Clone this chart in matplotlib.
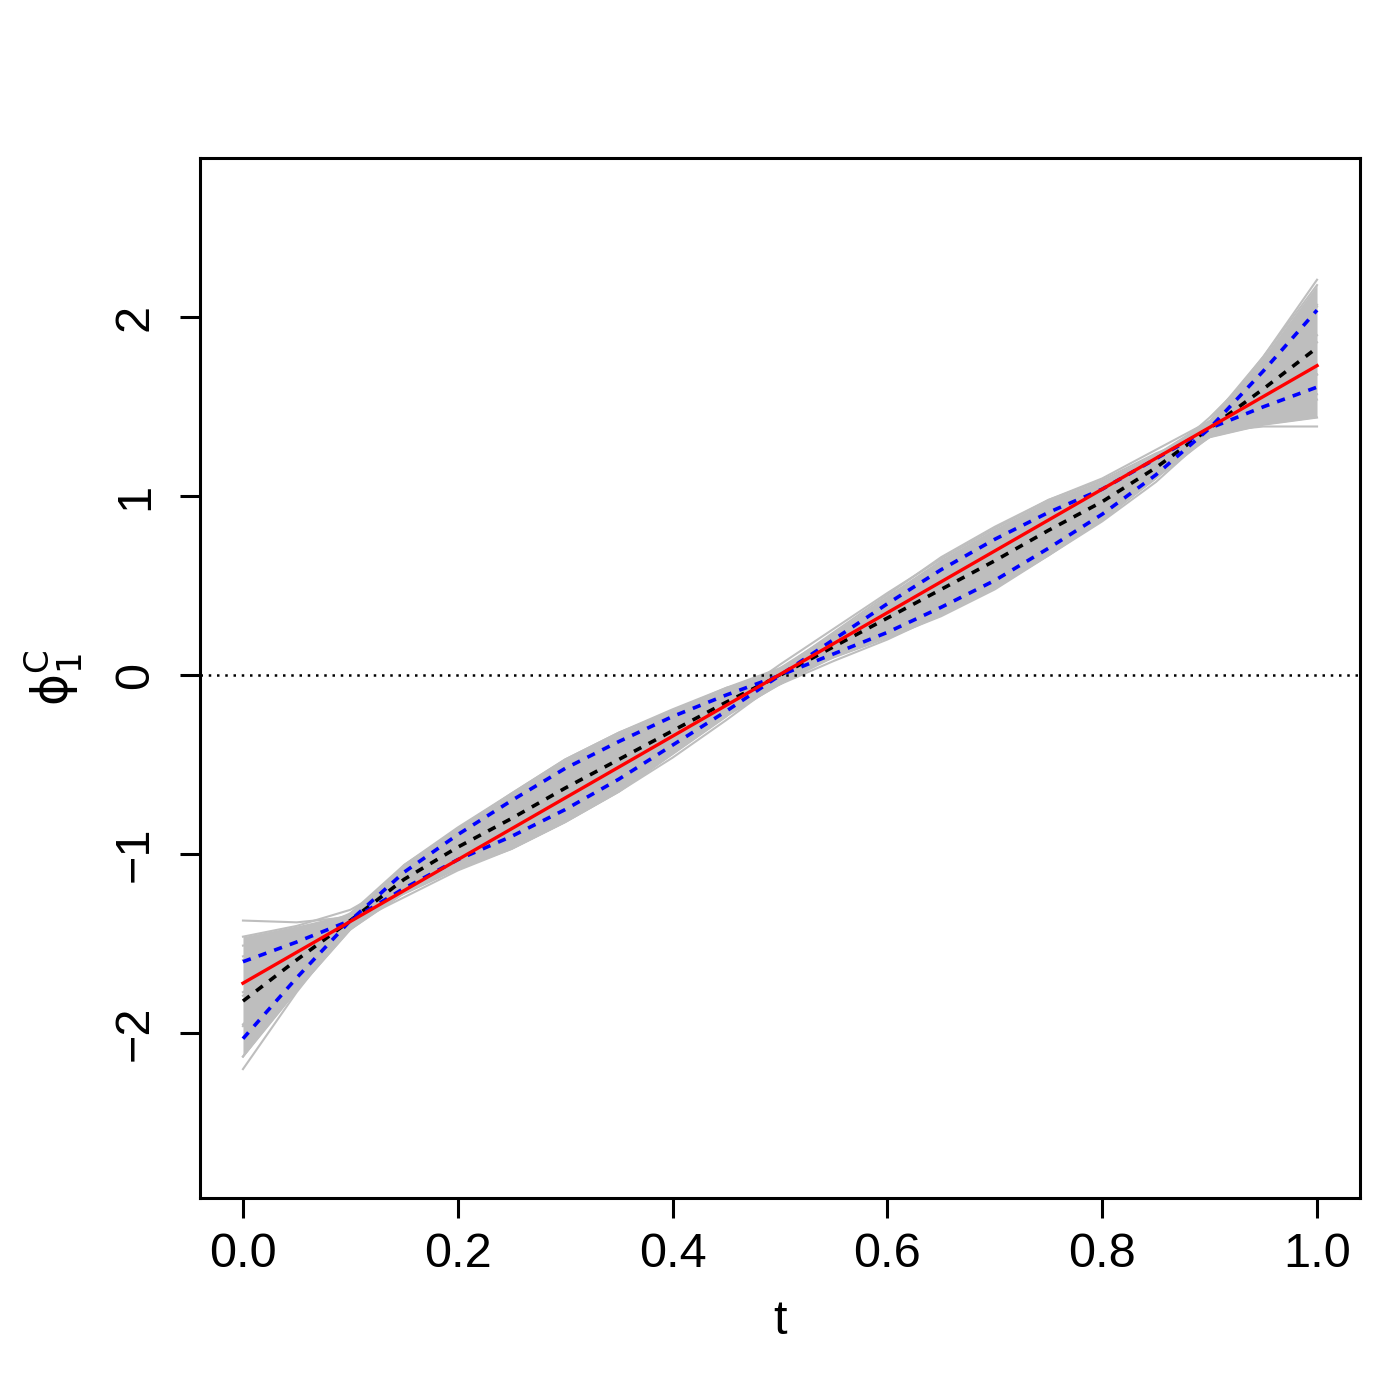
import numpy as np
import matplotlib
matplotlib.use("Agg")
import matplotlib.pyplot as plt

plt.rcParams['font.family'] = ['Liberation Sans', 'DejaVu Sans']
plt.rcParams['mathtext.fontset'] = 'dejavusans'

t = [0.00, 0.05, 0.10, 0.15, 0.20, 0.25, 0.30, 0.35, 0.40, 0.45, 0.50,
     0.55, 0.60, 0.65, 0.70, 0.75, 0.80, 0.85, 0.90, 0.95, 1.00]

# gray sample curves
gray_curves = [
    [-1.37, -1.38, -1.35, -1.22, -1.08, -0.97, -0.82, -0.65, -0.44, -0.23, 0.03,
     0.24, 0.45, 0.66, 0.83, 0.98, 1.09, 1.24, 1.36, 1.39, 1.39],
    [-1.51, -1.47, -1.39, -1.24, -1.09, -0.97, -0.82, -0.65, -0.46, -0.25, -0.03,
     0.18, 0.39, 0.58, 0.75, 0.90, 1.02, 1.18, 1.33, 1.40, 1.44],
    [-1.46, -1.40, -1.31, -1.14, -0.99, -0.87, -0.71, -0.54, -0.35, -0.15, 0.06,
     0.26, 0.46, 0.65, 0.82, 0.98, 1.10, 1.26, 1.42, 1.51, 1.57],
    [-1.57, -1.49, -1.38, -1.21, -1.05, -0.92, -0.77, -0.60, -0.41, -0.22, -0.02,
     0.19, 0.38, 0.57, 0.74, 0.89, 1.02, 1.19, 1.36, 1.46, 1.54],
    [-1.59, -1.46, -1.33, -1.13, -0.97, -0.83, -0.67, -0.51, -0.33, -0.14, 0.04,
     0.23, 0.42, 0.60, 0.76, 0.92, 1.06, 1.23, 1.42, 1.55, 1.68],
    [-1.77, -1.60, -1.42, -1.21, -1.04, -0.89, -0.72, -0.56, -0.39, -0.22, -0.05,
     0.13, 0.30, 0.47, 0.63, 0.80, 0.94, 1.13, 1.33, 1.51, 1.68],
    [-1.79, -1.56, -1.34, -1.11, -0.93, -0.77, -0.60, -0.44, -0.28, -0.12, 0.03,
     0.19, 0.35, 0.51, 0.67, 0.84, 1.00, 1.19, 1.41, 1.63, 1.86],
    [-1.95, -1.67, -1.41, -1.15, -0.97, -0.79, -0.62, -0.46, -0.31, -0.16, -0.03,
     0.11, 0.26, 0.41, 0.57, 0.74, 0.92, 1.11, 1.35, 1.62, 1.90],
    [-1.96, -1.63, -1.33, -1.06, -0.86, -0.68, -0.50, -0.34, -0.20, -0.07, 0.04,
     0.18, 0.31, 0.45, 0.61, 0.79, 0.97, 1.18, 1.44, 1.74, 2.07],
    [-2.13, -1.76, -1.42, -1.14, -0.93, -0.74, -0.56, -0.41, -0.27, -0.15, -0.05,
     0.08, 0.20, 0.34, 0.49, 0.67, 0.86, 1.08, 1.35, 1.69, 2.06],
    [-2.13, -1.73, -1.37, -1.06, -0.85, -0.66, -0.47, -0.32, -0.19, -0.07, 0.01,
     0.12, 0.24, 0.37, 0.52, 0.71, 0.90, 1.12, 1.42, 1.78, 2.18],
    [-2.20, -1.77, -1.39, -1.08, -0.86, -0.66, -0.47, -0.32, -0.20, -0.09, -0.02,
     0.10, 0.21, 0.33, 0.48, 0.67, 0.87, 1.10, 1.40, 1.78, 2.21],
]

# pointwise mean (black dashed) and band (blue dashed)
mean_curve = [-1.82, -1.59, -1.37, -1.14, -0.96, -0.80, -0.63, -0.47, -0.31, -0.15, 0.00,
              0.16, 0.32, 0.48, 0.64, 0.81, 0.97, 1.16, 1.38, 1.60, 1.83]
band_a = [-1.60, -1.49, -1.37, -1.19, -1.03, -0.90, -0.75, -0.58, -0.39, -0.20, 0.00,
          0.20, 0.40, 0.59, 0.76, 0.91, 1.04, 1.21, 1.38, 1.50, 1.61]
band_b = [-2.03, -1.69, -1.37, -1.10, -0.89, -0.70, -0.52, -0.37, -0.23, -0.11, 0.00,
          0.12, 0.24, 0.38, 0.53, 0.71, 0.90, 1.12, 1.38, 1.70, 2.04]

# true function (red)
true_t = [0.0, 1.0]
true_y = [-1.72, 1.73]

xticks = [0.0, 0.2, 0.4, 0.6, 0.8, 1.0]
xtick_labels = ["0.0", "0.2", "0.4", "0.6", "0.8", "1.0"]
yticks = [-2, -1, 0, 1, 2]
ytick_labels = ["\u22122", "\u22121", "0", "1", "2"]

fig = plt.figure(figsize=(7, 7), dpi=200)
ax = fig.add_axes([200/1400, 1 - 1198/1400, 1160/1400, 1040/1400])

G = np.array(gray_curves)
srt = np.sort(G, axis=0)
ax.fill_between(t, srt[1], srt[-2], color="#BEBEBE", lw=0, zorder=1)
for row in gray_curves:
    ax.plot(t, row, color="#BEBEBE", lw=0.75, zorder=1)

ax.axhline(0, color="black", lw=0.9, dashes=(1, 2.3), zorder=2)

ax.plot(true_t, true_y, color="red", lw=1.2, zorder=4)
ax.plot(t, mean_curve, color="black", lw=1.3, dashes=(2.3, 2.3), zorder=3)
ax.plot(t, band_a, color="blue", lw=1.3, dashes=(2.3, 2.3), zorder=3)
ax.plot(t, band_b, color="blue", lw=1.3, dashes=(2.3, 2.3), zorder=3)

ax.set_xlim(-0.04, 1.04)
ax.set_ylim(-2.92, 2.89)
ax.set_xticks(xticks)
ax.set_xticklabels(xtick_labels)
ax.set_yticks(yticks)
ax.set_yticklabels(ytick_labels, rotation=90, va="center")
ax.tick_params(length=7.2, width=1.1, labelsize=17.5, pad=5)
ax.tick_params(axis="y", pad=8)
for s in ax.spines.values():
    s.set_linewidth(1.1)

ax.set_xlabel("t", fontsize=17.5, labelpad=8)
ax.set_ylabel(r"$\mathrm{\phi}_1^{\mathrm{C}}$", fontsize=17.5, labelpad=10)

fig.savefig("out.png", dpi=200)
